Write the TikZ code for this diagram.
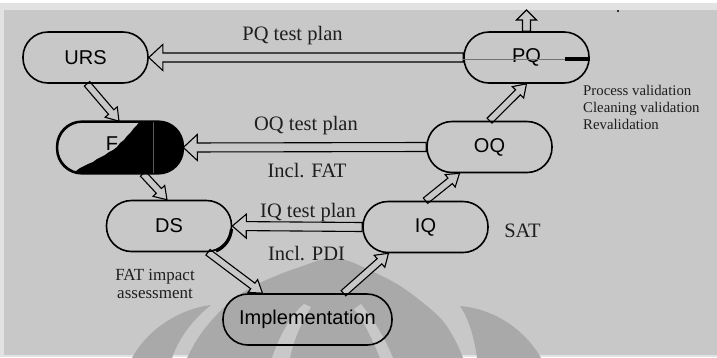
\documentclass[tikz,border=0pt]{standalone}
\usepackage{fontspec}
\setmainfont{Liberation Serif}
\newfontfamily\arialf{Liberation Sans}
\usetikzlibrary{calc}
\definecolor{bgc}{HTML}{C8C8C8}
\definecolor{wmc}{HTML}{A9A9A9}
\definecolor{stripc}{HTML}{E2E2E2}
\definecolor{txtc}{HTML}{1E1E1E}
\pgfdeclarelayer{wmark}
\pgfdeclarelayer{arrowlayer}
\pgfsetlayers{wmark,arrowlayer,main}

% hollow block arrow: #1 start, #2 tip, #3 shaft half width, #4 head half width, #5 head length
\newcommand{\hollowarrow}[5]{%
  \path let \p1=#1, \p2=#2 in \pgfextra{%
    \pgfmathparse{atan2(\y2-\y1,\x2-\x1)}\xdef\harAng{\pgfmathresult}%
    \pgfmathparse{veclen(\x2-\x1,\y2-\y1)}\xdef\harLen{\pgfmathresult}%
    \xdef\harX{\x1}\xdef\harY{\y1}};
  \begin{pgfonlayer}{arrowlayer}
    \draw[hollow, shift={(\harX,\harY)}, rotate=\harAng]
      (0pt,{-#3}) -- ({\harLen pt-#5},{-#3}) -- ({\harLen pt-#5},{-#4})
      -- ({\harLen pt},0pt) -- ({\harLen pt-#5},{#4}) -- ({\harLen pt-#5},{#3})
      -- (0pt,{#3}) -- cycle;
  \end{pgfonlayer}}

\tikzset{
  stage/.style={draw, line width=1.6pt, rounded corners=25pt, minimum width=125pt,
    minimum height=51pt, inner sep=0pt, font=\arialf\fontsize{20}{24}\selectfont},
  hollow/.style={draw, line width=1.1pt, fill=bgc, line join=miter},
  lab/.style={anchor=base, inner sep=0pt, text=txtc, font=\fontsize{20.5}{24}\selectfont},
  note/.style={anchor=base west, inner sep=0pt, text=txtc, font=\fontsize{14.8}{17}\selectfont},
  fatnote/.style={anchor=base, inner sep=0pt, text=txtc, font=\fontsize{17}{20}\selectfont}
}

\begin{document}
\begin{tikzpicture}[x=1pt, y=-1pt]
\useasboundingbox (0,0) rectangle (717,357);

% page and faint logo behind the chart
\begin{pgfonlayer}{wmark}
  \fill[bgc] (0,0) rectangle (717,357);
  \fill[white] (0,0) rectangle (717,3);
  \fill[stripc] (0,3) rectangle (717,10);
  \fill[stripc] (0,10) rectangle (4,357);
  \fill[stripc] (0,355) rectangle (717,357);
  % dome
  \fill[wmc] plot[smooth, tension=0.6] coordinates {(187,358) (198,338) (212,320)
    (230,302) (252,287) (278,275) (300,267) (325,259) (345,260) (365,268)
    (397,284) (422,302) (442,320) (455,340) (463,358)} -- cycle;
  % light inner bands of the dome
  \fill[bgc] (272,358) .. controls (280,334) and (292,314) .. (304,304)
    -- (311,307) .. controls (302,322) and (294,338) .. (290,358) -- cycle;
  \fill[bgc] (354,309) -- (361,304) .. controls (372,318) and (384,336) .. (393,358)
    -- (380,358) .. controls (372,338) and (364,322) .. (354,309) -- cycle;
  % side wings
  \fill[wmc] (132,358) .. controls (150,325) and (185,308) .. (211,305)
    .. controls (195,318) and (180,335) .. (172,358) -- cycle;
  \fill[wmc] (460,306) .. controls (495,309) and (525,330) .. (541,358)
    -- (477,358) .. controls (474,335) and (468,318) .. (460,306) -- cycle;
\end{pgfonlayer}

% stages
\node[stage] (URS) at (85.5,57.5) {URS};
\node[stage] (FS) at (120,147.5) {};
\node[stage] (DS) at (169,226) {DS};
\node[stage, minimum width=169pt] (IMP) at (307.5,319.5) {Implementation};
\node[stage] (IQ) at (425.5,227) {IQ};
\node[stage] (OQ) at (489.5,147) {OQ};
\node[stage] (PQ) at (526.5,57.5) {PQ};
\coordinate (PQout) at (526.5,10);

% FS box: letter and dark fill over its right part
\node[inner sep=0pt, font=\arialf\fontsize{20}{24}\selectfont] (Fletter) at (112,143.5) {F};
\begin{scope}
  \clip[rounded corners=25pt] (FS.south west) rectangle (FS.north east);
  \fill[black] (60,177) -- (72,173) -- (76,171) -- (80,168) -- (84,166) -- (88,164)
    -- (93,162) -- (97,159) -- (101,157) -- (105,155) -- (109,152) -- (113,150)
    -- (117,147) -- (120,143) -- (124,140) -- (127,136) -- (131,132) -- (134,128)
    -- (137,125) -- (141,120) -- (190,120) -- (190,177) -- cycle;
  \draw[black!65, line width=0.8pt] (153,122) -- (153,173);
\end{scope}
\draw[line width=1.6pt, rounded corners=25pt] (FS.south west) rectangle (FS.north east);

% marks on DS and PQ
\draw[line width=3.2pt] (231.5,229) .. controls (230.5,239) and (225,247) .. (216,251);
\draw[black!55, line width=0.8pt] (PQ.west) ++(0,1.5) -- (565,59);
\draw[line width=4pt] (565,59) -- ([yshift=-1.5pt]PQ.east);
\fill[black] (618,11) circle (1.2pt);

% test plans flowing back
\hollowarrow{(PQ.west)}{(URS.east)}{4.5pt}{13pt}{14pt}
\hollowarrow{(OQ.west)}{(FS.east)}{4.5pt}{13pt}{14pt}
\hollowarrow{(IQ.west)}{(DS.east)}{4.5pt}{12pt}{14pt}

% the V sequence
\hollowarrow{([xshift=1.5pt]URS.south)}{([xshift=-1pt]FS.north)}{3.5pt}{8pt}{12pt}
\hollowarrow{([xshift=23pt]FS.south)}{([xshift=-2pt]DS.north)}{3.5pt}{8pt}{12pt}
\hollowarrow{([xshift=39pt]DS.south)}{([xshift=-45pt]IMP.north)}{3.5pt}{8pt}{12pt}
\hollowarrow{([xshift=36pt]IMP.north)}{([xshift=-37pt]IQ.south)}{3.5pt}{8pt}{12pt}
\hollowarrow{(IQ.north)}{([xshift=-30pt]OQ.south)}{3.5pt}{8pt}{12pt}
\hollowarrow{(OQ.north)}{(PQ.south)}{3.5pt}{8pt}{12pt}
\hollowarrow{(PQ.north)}{(PQout)}{4pt}{10pt}{10pt}

% labels
\node[lab] (lPQ) at (292.5,40) {PQ test plan};
\node[lab] (lOQ) at (306,130) {OQ test plan};
\node[lab] (lFAT) at (307,177) {Incl. FAT};
\node[lab] (lIQ) at (308,217) {IQ test plan};
\node[lab] (lPDI) at (306.5,260) {Incl. PDI};
\node[lab] (lSAT) at (522.5,237) {SAT};
\node[fatnote] (lfat1) at (155,280) {FAT impact};
\node[fatnote] (lfat2) at (155,298) {assessment};
\node[note] (lpv) at (583,95) {Process validation};
\node[note] (lcv) at (583,112) {Cleaning validation};
\node[note] (lrv) at (583,129) {Revalidation};
\end{tikzpicture}
\end{document}
